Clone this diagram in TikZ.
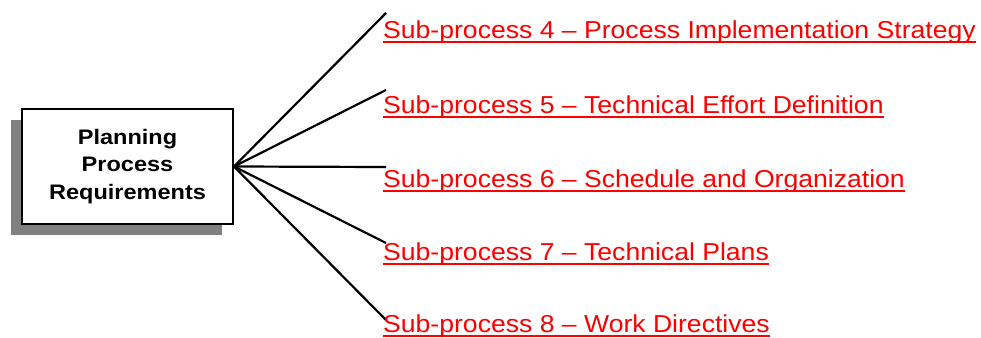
\documentclass[tikz,border=0pt]{standalone}
\usepackage{fontspec}
\setmainfont{Liberation Sans}
\newfontfamily\labelfont[FakeStretch=1.085]{Liberation Sans}
\newfontfamily\boxfont[FakeStretch=1.12]{Liberation Sans}
\usetikzlibrary{shadows}
\definecolor{shadowgray}{HTML}{808080}
\begin{document}
\begin{tikzpicture}[x=1pt,y=-1pt,
  mainbox/.style={draw=black, line width=2pt, fill=white, minimum width=211pt, minimum height=115pt,
    inner sep=0pt, align=center, font=\boxfont\fontsize{21}{27.5}\selectfont\bfseries,
    drop shadow={shadow xshift=-11pt, shadow yshift=-11pt, fill=shadowgray, opacity=1}},
  spoke/.style={draw=black, line width=2.2pt},
  sublabel/.style={anchor=base west, inner sep=0pt, text=red, font=\labelfont\fontsize{24.5}{30}\selectfont},
  ul/.style={draw=red, line width=2pt}
]
\useasboundingbox (0,0) rectangle (981,337);
\node[mainbox] (ppr) at (127.5,166.5) {Planning\\Process\\Requirements};
\coordinate (c4) at (386,13);
\coordinate (c5) at (386,90);
\coordinate (c6) at (386,167);
\coordinate (c7) at (386,243);
\coordinate (c8) at (386,320);
\foreach \c in {c4,c5,c6,c7,c8} \draw[spoke] (ppr.east) -- (\c);
\node[sublabel] (t4) at (383,38.5) {Sub-process 4 – Process Implementation Strategy};
\node[sublabel] (t5) at (383,113) {Sub-process 5 – Technical Effort Definition};
\node[sublabel] (t6) at (383,187) {Sub-process 6 – Schedule and Organization};
\node[sublabel] (t7) at (383,260) {Sub-process 7 – Technical Plans};
\node[sublabel] (t8) at (383,332.5) {Sub-process 8 – Work Directives};
\foreach \t in {t4,t5,t6,t7,t8} \draw[ul] ([yshift=-3.5pt]\t.base west) -- ([yshift=-3.5pt]\t.base east);
\end{tikzpicture}
\end{document}
